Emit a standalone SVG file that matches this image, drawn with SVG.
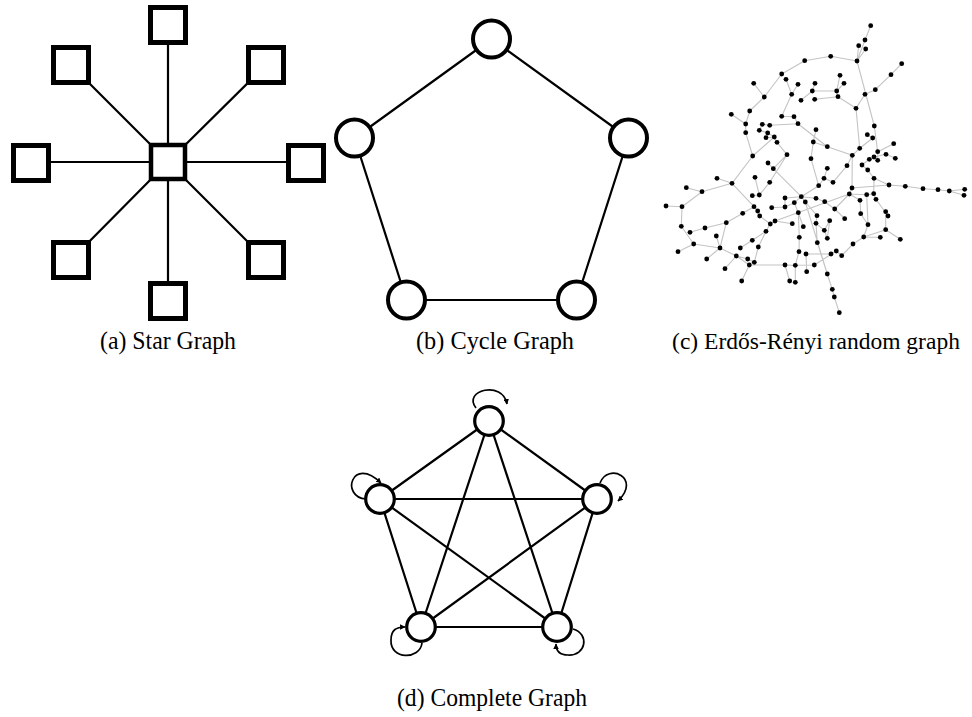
<svg xmlns="http://www.w3.org/2000/svg" width="972" height="717" viewBox="0 0 972 717">
<style>
.sq{fill:#fff;stroke:#000;stroke-width:5}
.cy{fill:#fff;stroke:#000;stroke-width:4}
.cp{fill:#fff;stroke:#000;stroke-width:3.2}
.e{stroke:#000;stroke-width:2.2;fill:none}
.lp{stroke:#000;stroke-width:1.7;fill:none}
.re{stroke:#c4c4c4;stroke-width:1.1;fill:none}
.cap{font-family:"Liberation Serif","Times New Roman",serif;font-size:25.5px;fill:#000;text-anchor:middle}
</style>
<defs>
<marker id="ah" viewBox="0 0 10 10" refX="9" refY="5" markerWidth="5.5" markerHeight="5.5" markerUnits="userSpaceOnUse" orient="auto"><path d="M0 0 L10 5 L0 10 Z" fill="#000"/></marker>
</defs>
<rect width="972" height="717" fill="#fff"/>

<!-- (a) Star graph -->
<g id="star-edges">
<path class="e" d="M168 162 L168 25 M168 162 L168 301 M168 162 L31 162 M168 162 L306 162 M168 162 L71 65 M168 162 L266 65 M168 162 L71 260 M168 162 L266 260"/>
</g>
<g id="star-center"><rect class="sq" x="151" y="145" width="34" height="34" style="stroke-width:4.5"/></g>
<g id="star-n"><rect class="sq" x="150.5" y="7.5" width="35" height="35"/></g>
<g id="star-s"><rect class="sq" x="150.5" y="283.5" width="35" height="35"/></g>
<g id="star-w"><rect class="sq" x="13.5" y="145.5" width="35" height="35"/></g>
<g id="star-e"><rect class="sq" x="288.5" y="145.5" width="35" height="35"/></g>
<g id="star-nw"><rect class="sq" x="53.5" y="47.5" width="35" height="35"/></g>
<g id="star-ne"><rect class="sq" x="248.5" y="47.5" width="35" height="35"/></g>
<g id="star-sw"><rect class="sq" x="53.5" y="242.5" width="35" height="35"/></g>
<g id="star-se"><rect class="sq" x="248.5" y="242.5" width="35" height="35"/></g>
<text class="cap" x="168" y="349" textLength="136" lengthAdjust="spacingAndGlyphs">(a) Star Graph</text>

<!-- (b) Cycle graph -->
<g id="cycle-edges">
<path class="e" d="M491.5 39 L354.5 138 L406.5 300 L576.5 300 L628.5 138 Z"/>
</g>
<g id="cyc-1"><circle class="cy" cx="491.5" cy="39" r="18.5"/></g>
<g id="cyc-2"><circle class="cy" cx="354.5" cy="138" r="18.5"/></g>
<g id="cyc-3"><circle class="cy" cx="628.5" cy="138" r="18.5"/></g>
<g id="cyc-4"><circle class="cy" cx="406.5" cy="300" r="18.5"/></g>
<g id="cyc-5"><circle class="cy" cx="576.5" cy="300" r="18.5"/></g>
<text class="cap" x="495" y="349" textLength="158" lengthAdjust="spacingAndGlyphs">(b) Cycle Graph</text>

<!-- (c) Erdos-Renyi random graph -->
<g id="er-edges">
<path class="re" d="
M870.7 25.7L865 40 M865 40L857 61 M858.7 45.7L857 61 M865.7 49L857 61 M857 61L830.7 56.3 M830.7 56.3L804.7 60.7 M804.7 60.7L781.7 74 M857 61L874.3 126
M901.7 63.7L891 74.7 M891 74.7L875.3 89.7 M875.3 89.7L865 94.3 M865 94.3L856 108.3 M856 108.3L859.7 148.3 M838 96.7L856 108.3
M840 75.3L836.7 91 M844 83.3L836.7 91 M812.3 91L836.7 91 M815 83.3L812.3 91 M814.7 99.3L838 96.7 M801 100.3L812.3 91 M838 96.7L836.7 91
M781.7 74L764.3 97 M753.7 83.3L764.3 97 M764.3 97L749.7 111 M749.7 111L745.7 124 M731.3 114.3L745.7 124
M786 79.3L791.7 94.3 M791.7 94.3L781.7 116.3 M798 84.3L791.7 94.3 M781.7 116.3L794 116.7 M794 116.7L798 123.7 M798 123.7L827.3 146.7 M769.7 125.3L798 123.7
M816 129.7L813.3 142 M813.3 142L811 158.7 M827.3 146.7L852.3 155.3 M813.3 142L827.3 146.7
M745.7 124L745.7 132.7 M745.7 132.7L752.7 156 M762.3 124.3L759.3 130.3 M759.3 130.3L767.7 133 M762.3 124.3L769.7 125.3
M766 137.7L774.3 137 M774.3 137L777 142.3 M777 142.3L787 154.7 M767.7 133L774.3 137 M752.7 156L774.3 137
M752.7 156L732 183.3 M732 183.3L717 178.3 M732 183.3L702 191.7 M732 183.3L754 206.7 M754 206.7L757.7 211 M757.7 211L759.7 216 M759.7 216L770.3 224
M702 191.7L686.3 187.7 M702 191.7L682 206.7 M682 206.7L666 206 M682 206.7L681.3 226.3 M681.3 226.3L693.7 244 M690 232.3L705 228 M705 228L726.3 222.7
M693.7 244L678 251.7 M693.7 244L720 248 M720 248L726.3 222.7 M716.3 236L720 248 M706.7 259L720 248 M720 248L736.3 256
M736.3 256L749.3 265 M736.3 256L725 268.7 M749.3 265L741.7 281 M749.3 265L785 265 M785 265L795.3 265.3 M795.3 265.3L814.3 265 M785 265L789.7 281 M795.3 265.3L795.3 282.3
M747.7 259L754.3 262.3 M754.3 262.3L758.3 247 M758.3 247L766 231.3 M752.3 240.3L766 231.3 M766 231.3L770.3 224 M740.3 248L752.3 240.3 M736.3 256L747.7 259
M768 163L773.3 168.7 M787 154.7L773.3 168.7 M773.3 168.7L801.3 196.7 M811 158.7L818.7 185.7 M824 178.3L818.7 185.7
M755 177.3L759.3 195 M759.3 195L769.7 182.3 M752.3 195.7L759.3 195 M769.7 182.3L787 154.7
M801.3 196.7L818.7 185.7 M801.3 196.7L785 198 M801.3 196.7L794.3 202.7 M801.3 196.7L805.3 202 M805.3 202L817 215.7 M816 198.3L824.7 201.7 M801.3 196.7L816 198.3
M794.3 202.7L798.3 212.7 M798.3 212.7L799.3 237.3 M799.3 237.3L799 251.7 M799 251.7L795.3 265.3
M817 215.7L816 223.3 M816 223.3L817.3 242.7 M817.3 242.7L827.3 274 M816 223.3L824.3 230.3 M824.3 230.3L827.3 238.3 M829.7 220.7L824.3 230.3
M834.7 209L844.7 218.7 M834.7 209L824.7 201.7 M834.7 209L849.3 194 M775 221L849.3 194
M771.7 207.7L785 207 M785 207L794.3 202.7 M785 198L785 207 M770.3 224L775 221 M792.3 223.7L775 221 M803.3 226.7L798.3 212.7 M829.7 220.7L827.3 238.3
M806 254L831 254 M806 254L806.7 271.7 M814.3 265L836.3 251 M836.3 251L841.7 255.7 M841.7 255.7L853 244 M831 254L836.3 251
M853 244L863.7 237 M863.7 237L868 224.7 M868 224.7L866.7 194.7 M863.7 237L885.7 229.7 M885.7 229.7L885.7 211.7 M885.7 211.7L888 216 M888 216L876 199.3 M876 199.3L873.7 193.7 M873.7 193.7L874 178.3
M874 178.3L889 185 M889 185L905.3 186.3 M905.3 186.3L923 188.7 M923 188.7L938 189.7 M938 189.7L949.3 191 M949.3 191L964.7 189.3 M949.3 191L964 195.3
M885.7 229.7L900.3 239.3 M880.3 237.3L863.7 237 M849.3 194L852 188 M852 188L852.3 155.3 M852 188L889 185 M866.7 194.7L849.3 194 M866.7 194.7L873.7 193.7
M860 200.3L860.7 213.7 M860.7 213.7L868 224.7 M860 200.3L849.3 194
M874 178.3L867.7 170 M867.7 170L862 165 M862 165L869.3 159.3 M869.3 159.3L874 157 M874 157L886 154.3 M886 154.3L895.3 158.3
M877.7 151.7L877.7 160.3 M877.7 151.7L893.7 143.7 M874.3 126L877.7 151.7 M867.3 134.7L872.7 138 M872.7 138L859.7 148.3
M852.3 155.3L847 165.7 M847 165.7L833 182.3 M859.7 148.3L852.3 155.3 M827.3 168.3L824 178.3 M833 182.3L824 178.3
M832.3 289.3L834.3 297 M834.3 297L839.3 312.7 M832.3 289.3L827.3 274 M827.3 274L805.3 202
M742.7 213.3L754 206.7 M742.7 213.3L726.3 222.7"/>
</g>
<g id="er-nodes" fill="#000">
<circle cx="870.7" cy="25.7" r="2.4"/><circle cx="865" cy="40" r="2.4"/><circle cx="858.7" cy="45.7" r="2.4"/><circle cx="865.7" cy="49" r="2.4"/><circle cx="857" cy="61" r="2.4"/><circle cx="830.7" cy="56.3" r="2.4"/><circle cx="804.7" cy="60.7" r="2.4"/><circle cx="901.7" cy="63.7" r="2.4"/>
<circle cx="781.7" cy="74" r="2.4"/><circle cx="786" cy="79.3" r="2.4"/><circle cx="840" cy="75.3" r="2.4"/><circle cx="891" cy="74.7" r="2.4"/><circle cx="753.7" cy="83.3" r="2.4"/><circle cx="798" cy="84.3" r="2.4"/><circle cx="815" cy="83.3" r="2.4"/><circle cx="844" cy="83.3" r="2.4"/>
<circle cx="764.3" cy="97" r="2.4"/><circle cx="791.7" cy="94.3" r="2.4"/><circle cx="812.3" cy="91" r="2.4"/><circle cx="836.7" cy="91" r="2.4"/><circle cx="838" cy="96.7" r="2.4"/><circle cx="865" cy="94.3" r="2.4"/><circle cx="875.3" cy="89.7" r="2.4"/><circle cx="801" cy="100.3" r="2.4"/>
<circle cx="814.7" cy="99.3" r="2.4"/><circle cx="856" cy="108.3" r="2.4"/><circle cx="749.7" cy="111" r="2.4"/><circle cx="731.3" cy="114.3" r="2.4"/><circle cx="781.7" cy="116.3" r="2.4"/><circle cx="794" cy="116.7" r="2.4"/><circle cx="745.7" cy="124" r="2.4"/><circle cx="762.3" cy="124.3" r="2.4"/>
<circle cx="769.7" cy="125.3" r="2.4"/><circle cx="798" cy="123.7" r="2.4"/><circle cx="874.3" cy="126" r="2.4"/><circle cx="745.7" cy="132.7" r="2.4"/><circle cx="759.3" cy="130.3" r="2.4"/><circle cx="767.7" cy="133" r="2.4"/><circle cx="816" cy="129.7" r="2.4"/><circle cx="766" cy="137.7" r="2.4"/>
<circle cx="774.3" cy="137" r="2.4"/><circle cx="867.3" cy="134.7" r="2.4"/><circle cx="872.7" cy="138" r="2.4"/><circle cx="777" cy="142.3" r="2.4"/><circle cx="813.3" cy="142" r="2.4"/><circle cx="827.3" cy="146.7" r="2.4"/><circle cx="893.7" cy="143.7" r="2.4"/><circle cx="859.7" cy="148.3" r="2.4"/>
<circle cx="877.7" cy="151.7" r="2.4"/><circle cx="787" cy="154.7" r="2.4"/><circle cx="752.7" cy="156" r="2.4"/><circle cx="811" cy="158.7" r="2.4"/><circle cx="852.3" cy="155.3" r="2.4"/><circle cx="869.3" cy="159.3" r="2.4"/><circle cx="874" cy="157" r="2.4"/><circle cx="877.7" cy="160.3" r="2.4"/>
<circle cx="886" cy="154.3" r="2.4"/><circle cx="895.3" cy="158.3" r="2.4"/><circle cx="768" cy="163" r="2.4"/><circle cx="862" cy="165" r="2.4"/><circle cx="847" cy="165.7" r="2.4"/><circle cx="773.3" cy="168.7" r="2.4"/><circle cx="827.3" cy="168.3" r="2.4"/><circle cx="867.7" cy="170" r="2.4"/>
<circle cx="717" cy="178.3" r="2.4"/><circle cx="755" cy="177.3" r="2.4"/><circle cx="824" cy="178.3" r="2.4"/><circle cx="874" cy="178.3" r="2.4"/><circle cx="732" cy="183.3" r="2.4"/><circle cx="769.7" cy="182.3" r="2.4"/><circle cx="833" cy="182.3" r="2.4"/><circle cx="889" cy="185" r="2.4"/>
<circle cx="905.3" cy="186.3" r="2.4"/><circle cx="818.7" cy="185.7" r="2.4"/><circle cx="852" cy="188" r="2.4"/><circle cx="752.3" cy="195.7" r="2.4"/><circle cx="759.3" cy="195" r="2.4"/><circle cx="785" cy="198" r="2.4"/><circle cx="801.3" cy="196.7" r="2.4"/><circle cx="816" cy="198.3" r="2.4"/>
<circle cx="849.3" cy="194" r="2.4"/><circle cx="866.7" cy="194.7" r="2.4"/><circle cx="873.7" cy="193.7" r="2.4"/><circle cx="794.3" cy="202.7" r="2.4"/><circle cx="805.3" cy="202" r="2.4"/><circle cx="824.7" cy="201.7" r="2.4"/><circle cx="860" cy="200.3" r="2.4"/><circle cx="876" cy="199.3" r="2.4"/>
<circle cx="754" cy="206.7" r="2.4"/><circle cx="771.7" cy="207.7" r="2.4"/><circle cx="785" cy="207" r="2.4"/><circle cx="834.7" cy="209" r="2.4"/><circle cx="757.7" cy="211" r="2.4"/><circle cx="742.7" cy="213.3" r="2.4"/><circle cx="798.3" cy="212.7" r="2.4"/><circle cx="759.7" cy="216" r="2.4"/>
<circle cx="817" cy="215.7" r="2.4"/><circle cx="844.7" cy="218.7" r="2.4"/><circle cx="860.7" cy="213.7" r="2.4"/><circle cx="885.7" cy="211.7" r="2.4"/><circle cx="888" cy="216" r="2.4"/><circle cx="775" cy="221" r="2.4"/><circle cx="770.3" cy="224" r="2.4"/><circle cx="726.3" cy="222.7" r="2.4"/>
<circle cx="792.3" cy="223.7" r="2.4"/><circle cx="816" cy="223.3" r="2.4"/><circle cx="829.7" cy="220.7" r="2.4"/><circle cx="803.3" cy="226.7" r="2.4"/><circle cx="868" cy="224.7" r="2.4"/><circle cx="766" cy="231.3" r="2.4"/><circle cx="824.3" cy="230.3" r="2.4"/><circle cx="885.7" cy="229.7" r="2.4"/>
<circle cx="716.3" cy="236" r="2.4"/><circle cx="799.3" cy="237.3" r="2.4"/><circle cx="827.3" cy="238.3" r="2.4"/><circle cx="863.7" cy="237" r="2.4"/><circle cx="880.3" cy="237.3" r="2.4"/><circle cx="900.3" cy="239.3" r="2.4"/><circle cx="752.3" cy="240.3" r="2.4"/><circle cx="817.3" cy="242.7" r="2.4"/>
<circle cx="853" cy="244" r="2.4"/><circle cx="720" cy="248" r="2.4"/><circle cx="740.3" cy="248" r="2.4"/><circle cx="758.3" cy="247" r="2.4"/><circle cx="799" cy="251.7" r="2.4"/><circle cx="806" cy="254" r="2.4"/><circle cx="836.3" cy="251" r="2.4"/><circle cx="831" cy="254" r="2.4"/>
<circle cx="841.7" cy="255.7" r="2.4"/><circle cx="736.3" cy="256" r="2.4"/><circle cx="747.7" cy="259" r="2.4"/><circle cx="754.3" cy="262.3" r="2.4"/><circle cx="749.3" cy="265" r="2.4"/><circle cx="785" cy="265" r="2.4"/><circle cx="795.3" cy="265.3" r="2.4"/><circle cx="814.3" cy="265" r="2.4"/>
<circle cx="725" cy="268.7" r="2.4"/><circle cx="806.7" cy="271.7" r="2.4"/><circle cx="827.3" cy="274" r="2.4"/>
<circle cx="666" cy="206" r="2.4"/><circle cx="682" cy="206.7" r="2.4"/><circle cx="686.3" cy="187.7" r="2.4"/><circle cx="702" cy="191.7" r="2.4"/><circle cx="681.3" cy="226.3" r="2.4"/><circle cx="690" cy="232.3" r="2.4"/><circle cx="705" cy="228" r="2.4"/><circle cx="693.7" cy="244" r="2.4"/><circle cx="678" cy="251.7" r="2.4"/><circle cx="706.7" cy="259" r="2.4"/>
<circle cx="741.7" cy="281" r="2.4"/><circle cx="789.7" cy="281" r="2.4"/><circle cx="795.3" cy="282.3" r="2.4"/><circle cx="832.3" cy="289.3" r="2.4"/><circle cx="834.3" cy="297" r="2.4"/><circle cx="839.3" cy="312.7" r="2.4"/>
<circle cx="923" cy="188.7" r="2.4"/><circle cx="938" cy="189.7" r="2.4"/><circle cx="949.3" cy="191" r="2.4"/><circle cx="964.7" cy="189.3" r="2.4"/><circle cx="964" cy="195.3" r="2.4"/>
</g>
<text class="cap" x="816" y="349" style="font-size:23.5px">(c) Erdős-Rényi random graph</text>

<!-- (d) Complete graph -->
<g id="complete-edges">
<path class="e" d="M489 421 L380 499 M489 421 L597 499 M489 421 L421 627 M489 421 L557 627 M380 499 L597 499 M380 499 L421 627 M380 499 L557 627 M597 499 L421 627 M597 499 L557 627 M421 627 L557 627"/>
<path class="lp" marker-end="url(#ah)" d="M476 408 C 462 390, 503 380, 507 404"/>
<path class="lp" marker-end="url(#ah)" d="M366 499 C 340 497, 352 455, 381 483"/>
<path class="lp" marker-end="url(#ah)" d="M600 483 C 608 462, 642 478, 618 501"/>
<path class="lp" marker-end="url(#ah)" d="M422 643 C 420 660, 390 660, 391 640 C 391 630, 396 627, 405 627"/>
<path class="lp" marker-end="url(#ah)" d="M573 629 C 590 634, 586 656, 568 655 C 560 655, 556 652, 556 644"/>
</g>
<g id="cpl-1"><circle class="cp" cx="489" cy="421" r="14.3"/></g>
<g id="cpl-2"><circle class="cp" cx="380" cy="499" r="14.3"/></g>
<g id="cpl-3"><circle class="cp" cx="597" cy="499" r="14.3"/></g>
<g id="cpl-4"><circle class="cp" cx="421" cy="627" r="14.3"/></g>
<g id="cpl-5"><circle class="cp" cx="557" cy="627" r="14.3"/></g>
<text class="cap" x="492" y="706" textLength="190" lengthAdjust="spacingAndGlyphs">(d) Complete Graph</text>
</svg>
